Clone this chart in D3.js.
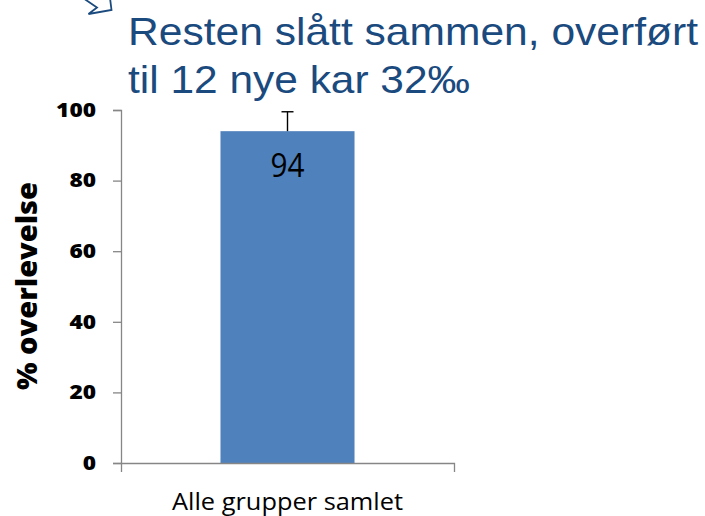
<!DOCTYPE html>
<html>
<head>
<meta charset="utf-8">
<script src="https://cdn.jsdelivr.net/npm/d3@7"></script>
<style>
  html, body { margin: 0; padding: 0; background: #fff; }
  svg { display: block; }
</style>
</head>
<body>
<svg id="chart" width="705" height="516"></svg>
<script>
// Survival after the remaining groups were pooled into 12 new tanks
const categories = ["Alle grupper samlet"];
const survival = [94];
const errorPlus = [5.5];
const yTicks = [0, 20, 40, 60, 80, 100];
const titleLines = ["Resten slått sammen, overført", "til 12 nye kar 32‰"];
const yTitle = "% overlevelse";

const svg = d3.select("#chart");
const axisColor = "#868686";
const titleColor = "#1A4A7E";
const barColor = "#4F81BD";

const margin = { left: 121, right: 251, top: 110, bottom: 53 };
const W = 705, H = 516;

const x = d3.scaleBand()
  .domain(categories)
  .range([margin.left, W - margin.right])
  .paddingInner(0.426)
  .paddingOuter(0.426);

const y = d3.scaleLinear()
  .domain([0, 100])
  .range([H - margin.bottom, margin.top]);

// Bars
svg.append("g")
  .selectAll("rect")
  .data(categories)
  .join("rect")
  .attr("x", d => x(d))
  .attr("width", x.bandwidth())
  .attr("y", (d, i) => y(survival[i]))
  .attr("height", (d, i) => y(0) - y(survival[i]))
  .attr("fill", barColor);

// Upper error bars
const eb = svg.append("g").attr("stroke", "#000").attr("stroke-width", 1.4);
categories.forEach((c, i) => {
  const cx = x(c) + x.bandwidth() / 2;
  const top = y(survival[i] + errorPlus[i]);
  eb.append("line").attr("x1", cx).attr("x2", cx)
    .attr("y1", y(survival[i])).attr("y2", top);
  eb.append("line").attr("x1", cx - 6).attr("x2", cx + 6)
    .attr("y1", top).attr("y2", top);
});

// Y axis
const yAxis = svg.append("g")
  .attr("transform", `translate(${margin.left},0)`)
  .call(d3.axisLeft(y).tickValues(yTicks).tickSize(8).tickPadding(17).tickFormat(d3.format("d")));
yAxis.selectAll("path, line").attr("stroke", axisColor).attr("stroke-width", 1.3);
yAxis.selectAll("text")
  .attr("font-family", "'Open Sans', sans-serif")
  .attr("font-weight", 800)
  .attr("font-size", 19.5)
  .attr("fill", "#000")
  .each(function (d) {
    const n = String(d).length;
    d3.select(this).attr("textLength", n * 13.3).attr("lengthAdjust", "spacingAndGlyphs");
  });

// X axis
const xAxis = svg.append("g")
  .attr("transform", `translate(0,${y(0)})`)
  .call(d3.axisBottom(x).tickSizeInner(0).tickSizeOuter(9).tickPadding(30));
xAxis.select("path.domain").attr("stroke", axisColor).attr("stroke-width", 1.3);
xAxis.selectAll(".tick line").remove();
xAxis.selectAll("text")
  .attr("font-family", "'Open Sans', sans-serif")
  .attr("font-size", 23.5)
  .attr("fill", "#000")
  .attr("textLength", 231)
  .attr("lengthAdjust", "spacingAndGlyphs");

// Value labels
svg.append("g")
  .selectAll("text")
  .data(categories)
  .join("text")
  .attr("x", d => x(d) + x.bandwidth() / 2)
  .attr("y", 177)
  .attr("text-anchor", "middle")
  .attr("font-family", "'Open Sans', sans-serif")
  .attr("font-size", 33)
  .attr("fill", "#000")
  .attr("textLength", 34)
  .attr("lengthAdjust", "spacingAndGlyphs")
  .text((d, i) => survival[i]);

// Y axis title
svg.append("text")
  .attr("transform", "rotate(-90)")
  .attr("x", -286)
  .attr("y", 37)
  .attr("text-anchor", "middle")
  .attr("font-family", "'Open Sans', sans-serif")
  .attr("font-weight", 800)
  .attr("font-size", 29)
  .attr("fill", "#000")
  .attr("textLength", 208)
  .attr("lengthAdjust", "spacingAndGlyphs")
  .text(yTitle);

// Slide heading
const titleWidths = [570, 342];
const titleBaselines = [45, 93];
titleLines.forEach((t, i) => {
  svg.append("text")
    .attr("x", 128)
    .attr("y", titleBaselines[i])
    .attr("font-family", "'Liberation Sans', Arial, sans-serif")
    .attr("font-size", 38.5)
    .attr("fill", titleColor)
    .attr("textLength", titleWidths[i])
    .attr("lengthAdjust", "spacingAndGlyphs")
    .text(t);
});

// Outlined arrow shape peeking in at the top edge
svg.append("polyline")
  .attr("points", "83,-2 97,7.5 88.5,14 111.5,10 110,-2")
  .attr("fill", "none")
  .attr("stroke", titleColor)
  .attr("stroke-width", 1.8)
  .attr("stroke-linejoin", "miter");
</script>
</body>
</html>
